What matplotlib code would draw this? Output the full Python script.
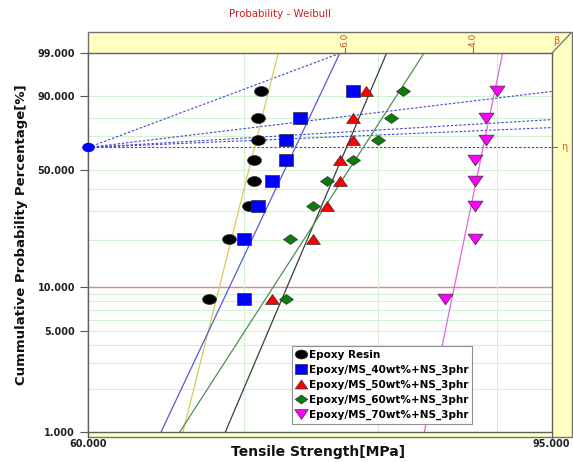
import numpy as np
import matplotlib
matplotlib.use("Agg")
import matplotlib.pyplot as plt
import matplotlib.patches as mpatches
from matplotlib.path import Path
from matplotlib.markers import MarkerStyle
from matplotlib.ticker import NullLocator
import matplotlib.transforms as mtransforms

labels = ["Epoxy Resin", "Epoxy/MS_40wt%+NS_3phr", "Epoxy/MS_50wt%+NS_3phr",
          "Epoxy/MS_60wt%+NS_3phr", "Epoxy/MS_70wt%+NS_3phr"]
# median ranks of the 8 specimens [%]
ranks = [8.33, 20.24, 32.14, 44.05, 55.95, 67.86, 79.76, 91.67]
# tensile strength [MPa]
epoxy = [67.6, 69.0, 70.4, 70.7, 70.7, 71.0, 71.0, 71.2]
ms40 = [70.0, 70.0, 71.0, 72.0, 73.0, 73.0, 74.0, 78.0]
ms50 = [72.0, 75.0, 76.0, 77.0, 77.0, 78.0, 78.0, 79.0]
ms60 = [73.0, 73.3, 75.0, 76.0, 78.0, 80.0, 81.0, 82.0]
ms70 = [85.5, 88.0, 88.0, 88.0, 88.0, 89.0, 89.0, 90.0]
series = [epoxy, ms40, ms50, ms60, ms70]

# slopes of the beta-estimation guide lines from the pivot
pivot_slopes = [6.1, 1.97, 0.98, 0.70]
beta_ticks = [6.0, 4.0]
yticks = [1, 5, 10, 50, 90, 99]
grid_p = [2, 3, 4, 5, 6, 7, 8, 9, 20, 30, 40, 50, 70, 80, 90]
grid_x = [70, 80, 90]

fill_cols = ["#000000", "#0000ff", "#ff0000", "#0a7d0a", "#ff00ff"]
line_cols = ["#d6cc5a", "#5a5ad6", "#3c3c3c", "#4f8f4f", "#e066e0"]


def shape(verts):
    return MarkerStyle(Path(verts + [verts[0]], closed=True))


ell = Path.unit_circle().transformed(mtransforms.Affine2D().scale(0.7, 0.5))
markers = [MarkerStyle(ell),
           shape([(-0.55, -0.5), (0.55, -0.5), (0.55, 0.5), (-0.55, 0.5)]),
           shape([(-0.7, -0.5), (0.7, -0.5), (0.0, 0.5)]),
           shape([(-0.7, 0.0), (0.0, 0.5), (0.7, 0.0), (0.0, -0.5)]),
           shape([(-0.7, 0.5), (0.7, 0.5), (0.0, -0.5)])]
msizes = [10, 9.4, 10, 10, 10.8]


def fwd(p):
    p = np.clip(np.asarray(p, dtype=float), 1e-6, 100 - 1e-9)
    return np.log(-np.log(1 - p / 100.0))


def inv(w):
    return 100.0 * (1 - np.exp(-np.exp(np.asarray(w, dtype=float))))


W, H = 573, 462
fig = plt.figure(figsize=(W / 100, H / 100), dpi=100)

# yellow beta / eta scale frame
frame = mpatches.Rectangle((88 / W, 1 - 437 / H), (572 - 88) / W, (437 - 32) / H,
                           transform=fig.transFigure, facecolor="#ffffc2",
                           edgecolor="#707070", lw=1.0, zorder=-5)
fig.add_artist(frame)
fig.add_artist(plt.Line2D([552 / W, 571 / W], [1 - 53 / H, 1 - 33 / H],
                          transform=fig.transFigure, color="#707070", lw=0.9, zorder=-4))

ax = fig.add_axes([88.3 / W, 1 - 432 / H, (551.7 - 88.3) / W, (432 - 53) / H])
ax.set_facecolor("white")
ax.set_xscale("log")
ax.set_yscale("function", functions=(fwd, inv))
ax.set_xlim(60, 95)
ax.set_ylim(1, 99)

for p in grid_p:
    ax.axhline(p, color="#d2f0d2", lw=0.8, zorder=0)
ax.axhline(10, color="#e48484", lw=1.0, zorder=0)
for gx in grid_x:
    ax.axvline(gx, color="#d2f0d2", lw=0.8, zorder=0)

# beta estimation guides
eta_p = inv(0.0)
w_top = fwd(99)
dash = (0, (2.2, 1.6))
for s in pivot_slopes:
    w_end = s * np.log(95 / 60)
    t_end = 95.0
    if w_end > w_top:
        w_end = w_top
        t_end = 60 * np.exp(w_top / s)
    ax.plot([60, t_end], [eta_p, inv(w_end)], color="#4646c8", lw=0.8, ls=dash, zorder=1)
ax.plot([60, 95], [eta_p, eta_p], color="#4646c8", lw=0.8, ls=dash, zorder=1)
ax.plot([60], [eta_p], marker=MarkerStyle(ell), ms=8, color="#0000ff",
        clip_on=False, zorder=5)

# rank regression on X for each data set
yw = fwd(ranks)
w_lim = fwd([1, 99])
for vals, lc in zip(series, line_cols):
    b, a = np.polyfit(yw, np.log(vals), 1)
    ax.plot(np.exp(a + b * w_lim), [1, 99], color=lc, lw=0.9, zorder=2)

for vals, lab, fc, mk, ms in zip(series, labels, fill_cols, markers, msizes):
    ax.plot(vals, ranks, ls="none", marker=mk, ms=ms, mfc=fc, mec="#303030",
            mew=0.5, label=lab, zorder=4)

# beta scale on top, eta mark on the right
tr_top = mtransforms.blended_transform_factory(ax.transData, ax.transAxes)
for bt in beta_ticks:
    xb = 60 * np.exp(w_top / bt)
    ax.plot([xb, xb], [1.0, 1.012], color="#707070", lw=0.8, transform=tr_top, clip_on=False)
    ax.text(xb, 1.016, "%.1f" % bt, rotation=90, ha="center", va="bottom",
            fontsize=6.5, color="#c0502a", transform=tr_top)
ax.text(1.003, 1.032, "\u03b2", transform=ax.transAxes, fontsize=7,
        color="#d0602a", ha="left", va="center")
tr_right = mtransforms.blended_transform_factory(ax.transAxes, ax.transData)
ax.plot([1.0, 1.012], [eta_p, eta_p], color="#707070", lw=0.8, transform=tr_right, clip_on=False)
ax.text(1.02, eta_p, "\u03b7", transform=tr_right, fontsize=7, color="#d0602a",
        ha="left", va="center")

ax.set_xticks([60, 95])
ax.set_xticklabels(["60.000", "95.000"])
ax.set_yticks(yticks)
ax.set_yticklabels(["%.3f" % v for v in yticks])
ax.xaxis.set_minor_locator(NullLocator())
ax.yaxis.set_minor_locator(NullLocator())
ax.tick_params(axis="both", labelsize=7, colors="#555555", length=6, width=0.8)
ax.tick_params(axis="x", length=4, pad=1)
for lab in ax.get_xticklabels() + ax.get_yticklabels():
    lab.set_fontweight("bold")
    lab.set_color("#222222")
for sp in ax.spines.values():
    sp.set_color("#606060")
    sp.set_linewidth(1.0)

leg = ax.legend(loc="lower left", bbox_to_anchor=(0.4396, 0.0211), fancybox=False,
                edgecolor="#909090", framealpha=1, borderpad=0.4, labelspacing=0.45,
                handlelength=1.0, handletextpad=0.2, borderaxespad=0, markerscale=0.9,
                prop={"weight": "bold", "size": 7.5})
leg.get_frame().set_linewidth(0.8)

fig.text(280 / W, 1 - 14 / H, "Probability - Weibull", color="#c82020",
         fontsize=7.4, ha="center", va="center")
fig.text(318 / W, 1 - 452 / H, "Tensile Strength[MPa]", fontsize=10,
         fontweight="bold", ha="center", va="center", color="#111111")
fig.text(22 / W, 1 - 235 / H, "Cummulative Probability Percentage[%]", fontsize=9.5,
         fontweight="bold", rotation=90, ha="center", va="center", color="#111111")

fig.savefig("out.png", dpi=100)
